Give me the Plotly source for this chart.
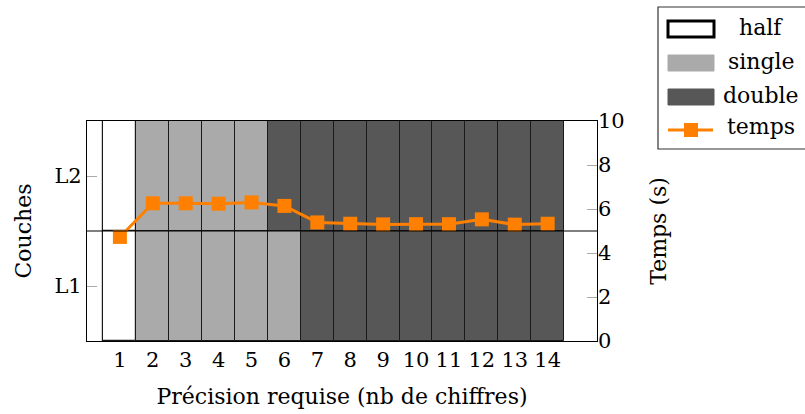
import plotly.graph_objects as go

# Required precision (number of digits) on the x axis
digits = list(range(1, 15))

# Floating-point format chosen for each layer at each precision
layer_L1 = ["half", "single", "single", "single", "single", "single",
            "double", "double", "double", "double", "double", "double", "double", "double"]
layer_L2 = ["half", "single", "single", "single", "single", "double",
            "double", "double", "double", "double", "double", "double", "double", "double"]

# Run time in seconds
temps = [4.73, 6.26, 6.26, 6.24, 6.30, 6.14, 5.39, 5.33, 5.30, 5.31, 5.31, 5.53, 5.29, 5.33]

layer_ticks = [1, 2]
layer_names = ["L1", "L2"]
time_ticks = [0, 2, 4, 6, 8, 10]

formats = ["half", "single", "double"]
fill = {"half": "white", "single": "#aaaaaa", "double": "#575757"}
ORANGE = "#ff8000"

FONT = "DejaVu Serif"
FS = 21

# Plot area in pixels, used to place the legend box
W, H = 805, 414
L, R, T, B = 87, 208, 121, 73
PW, PH = W - L - R, H - T - B


def px(x):
    return (x - L) / PW


def py(y):
    return (H - B - y) / PH


fig = go.Figure()

for fmt in formats:
    xs, bases = [], []
    for layer_pos, layer in ((1, layer_L1), (2, layer_L2)):
        for d, f in zip(digits, layer):
            if f == fmt:
                xs.append(d)
                bases.append(layer_pos - 0.5)
    fig.add_trace(go.Bar(
        x=xs, y=[1] * len(xs), base=bases, width=1, name=fmt,
        marker=dict(color=fill[fmt], line=dict(color="#1a1a1a", width=1.2 if fmt == "half" else 1)),
        hoverinfo="skip", showlegend=False,
    ))

fig.add_trace(go.Scatter(
    x=digits, y=temps, yaxis="y2", name="temps", mode="lines+markers",
    line=dict(color=ORANGE, width=3),
    marker=dict(symbol="square", size=14, color=ORANGE),
    showlegend=False,
))

# Separator between the two layers
fig.add_shape(type="line", xref="paper", x0=0, x1=1, yref="y", y0=1.5, y1=1.5,
              line=dict(color="black", width=1.2), layer="above")

# Legend box drawn by hand so the swatches are wide rectangles
fig.add_shape(type="rect", xref="paper", yref="paper",
              x0=px(658), x1=px(812), y0=py(149), y1=py(7),
              line=dict(color="#333333", width=1.2), fillcolor="white")
swatches = [("half", 29), ("single", 63), ("double", 97)]
for fmt, yc in swatches:
    fig.add_shape(type="rect", xref="paper", yref="paper",
                  x0=px(668), x1=px(714), y0=py(yc + 8), y1=py(yc - 8),
                  fillcolor=fill[fmt],
                  line=dict(color="black" if fmt == "half" else fill[fmt],
                            width=3 if fmt == "half" else 1))
    fig.add_annotation(xref="paper", yref="paper", x=px(761), y=py(yc - 2),
                       text=fmt, showarrow=False, xanchor="center", yanchor="middle",
                       font=dict(family=FONT, size=FS + 1, color="black"))
fig.add_shape(type="line", xref="paper", yref="paper",
              x0=px(668), x1=px(713), y0=py(130), y1=py(130),
              line=dict(color=ORANGE, width=3))
fig.add_shape(type="rect", xref="paper", yref="paper",
              x0=px(684), x1=px(698), y0=py(137), y1=py(123),
              fillcolor=ORANGE, line=dict(color=ORANGE, width=0))
fig.add_annotation(xref="paper", yref="paper", x=px(761), y=py(127),
                   text="temps", showarrow=False, xanchor="center", yanchor="middle",
                   font=dict(family=FONT, size=FS + 1, color="black"))

fig.update_layout(
    width=W, height=H,
    margin=dict(l=L, r=R, t=T, b=B, autoexpand=False),
    plot_bgcolor="white", paper_bgcolor="white",
    barmode="overlay", bargap=0, showlegend=False,
    font=dict(family=FONT, size=FS, color="black"),
    xaxis=dict(
        range=[0, 15.5], tickvals=digits, showgrid=False, zeroline=False,
        showline=True, linecolor="black", linewidth=1.2, mirror=True,
        ticks="", tickfont=dict(size=FS),
        title=dict(text="Précision requise (nb de chiffres)", font=dict(size=FS + 1), standoff=17),
    ),
    yaxis=dict(
        range=[0.5, 2.5], tickvals=layer_ticks, ticktext=layer_names,
        showgrid=False, zeroline=False, showline=True, linecolor="black",
        linewidth=1.2, mirror=True, ticks="inside", ticklen=10, tickcolor="#aaaaaa",
        tickfont=dict(size=FS),
        title=dict(text="Couches", font=dict(size=FS + 1), standoff=16),
    ),
    yaxis2=dict(
        overlaying="y", side="right", range=[0, 10], tickvals=time_ticks,
        showgrid=False, zeroline=False, ticks="inside", ticklen=10, tickcolor="#aaaaaa",
        tickfont=dict(size=FS),
        title=dict(text="Temps (s)", font=dict(size=FS + 1), standoff=26),
    ),
)

fig.write_html("out.html")
